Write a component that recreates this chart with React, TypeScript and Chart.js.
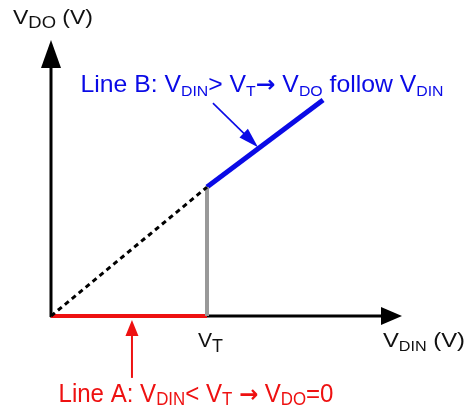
import { useEffect, useRef } from "react";
import { Chart, registerables } from "chart.js";

Chart.register(...registerables);

// Data (x in units of V_DIN, V_T = 1)
const X_MAX = 2.25;
const Y_MAX = 1.77;
const VT = 1;
const VT_LEVEL = 0.827;
const LINE_B_END = [1.744, 1.385];

const lineA = [
  { x: 0, y: 0 },
  { x: VT, y: 0 },
];
const vtMarker = [
  { x: VT, y: 0 },
  { x: VT, y: VT_LEVEL },
];
const dashed = [
  { x: 0, y: 0 },
  { x: VT, y: VT_LEVEL },
];
const lineB = [
  { x: VT, y: VT_LEVEL },
  { x: LINE_B_END[0], y: LINE_B_END[1] },
];

// Annotation anchor points (data units)
const pointerB = { from: [1.038, 1.365], to: [1.327, 1.083] };
const pointerA = { from: [0.519, -0.397], to: [0.519, -0.026] };

// Text runs: [text, kind] kind: 0 = normal, 1 = subscript, 2 = symbol
type Run = [string, number];
const yAxisLabel: Run[] = [["V", 0], ["DO", 1], [" (V)", 0]];
const xAxisLabel: Run[] = [["V", 0], ["DIN", 1], [" (V)", 0]];
const vtLabel: Run[] = [["V", 0], ["T", 1]];
const lineBLabel: Run[] = [
  ["Line B: V", 0],
  ["DIN", 1],
  ["> V", 0],
  ["T", 1],
  ["\u2192", 2],
  [" V", 0],
  ["DO", 1],
  [" follow V", 0],
  ["DIN", 1],
];
const lineALabel: Run[] = [
  ["Line A: V", 0],
  ["DIN", 1],
  ["< V", 0],
  ["T", 1],
  [" ", 0],
  ["\u2192", 2],
  [" V", 0],
  ["DO", 1],
  ["=0", 0],
];

const FONT = '"Liberation Sans", Arial, sans-serif';
const SYM_FONT = '"DejaVu Sans", sans-serif';

function drawRuns(
  ctx: CanvasRenderingContext2D,
  runs: Run[],
  x: number,
  y: number,
  size: number,
  subRatio: number,
  subShift: number,
  targetWidth: number,
  color: string
) {
  ctx.save();
  ctx.fillStyle = color;
  ctx.textBaseline = "alphabetic";
  ctx.textAlign = "left";
  const fontOf = (k: number) =>
    k === 1
      ? `${size * subRatio}px ${FONT}`
      : k === 2
      ? `bold ${size * 0.95}px ${SYM_FONT}`
      : `${size}px ${FONT}`;
  let total = 0;
  for (const [t, k] of runs) {
    ctx.font = fontOf(k);
    total += ctx.measureText(t).width;
  }
  const sx = targetWidth / total;
  ctx.translate(x, y);
  ctx.scale(sx, 1);
  let cx = 0;
  for (const [t, k] of runs) {
    ctx.font = fontOf(k);
    ctx.fillText(t, cx, k === 1 ? subShift : 0);
    cx += ctx.measureText(t).width;
  }
  ctx.restore();
}

function arrowHead(
  ctx: CanvasRenderingContext2D,
  fx: number,
  fy: number,
  tx: number,
  ty: number,
  len: number,
  half: number,
  color: string
) {
  const a = Math.atan2(ty - fy, tx - fx);
  const bx = tx - len * Math.cos(a);
  const by = ty - len * Math.sin(a);
  const px = -Math.sin(a) * half;
  const py = Math.cos(a) * half;
  ctx.save();
  ctx.fillStyle = color;
  ctx.beginPath();
  ctx.moveTo(tx, ty);
  ctx.lineTo(bx + px, by + py);
  ctx.lineTo(bx - px, by - py);
  ctx.closePath();
  ctx.fill();
  ctx.restore();
}

function arrow(
  ctx: CanvasRenderingContext2D,
  fx: number,
  fy: number,
  tx: number,
  ty: number,
  width: number,
  len: number,
  half: number,
  color: string
) {
  const a = Math.atan2(ty - fy, tx - fx);
  ctx.save();
  ctx.strokeStyle = color;
  ctx.lineWidth = width;
  ctx.beginPath();
  ctx.moveTo(fx, fy);
  ctx.lineTo(tx - (len - 2) * Math.cos(a), ty - (len - 2) * Math.sin(a));
  ctx.stroke();
  ctx.restore();
  arrowHead(ctx, fx, fy, tx, ty, len, half, color);
}

const axesPlugin = {
  id: "axesArrows",
  beforeDatasetsDraw(chart: any) {
    const { ctx, scales } = chart;
    const xs = scales.x;
    const ys = scales.y;
    const ox = xs.getPixelForValue(0);
    const oy = ys.getPixelForValue(0);
    const xe = xs.getPixelForValue(X_MAX);
    const ye = ys.getPixelForValue(Y_MAX);
    arrow(ctx, ox, oy + 1, ox, ye, 3, 28, 10, "#000");
    arrow(ctx, ox - 1, oy, xe, oy, 3, 21, 9, "#000");
  },
  afterDraw(chart: any) {
    const { ctx, scales } = chart;
    const xs = scales.x;
    const ys = scales.y;
    const px = (v: number) => xs.getPixelForValue(v);
    const py = (v: number) => ys.getPixelForValue(v);
    arrow(
      ctx,
      px(pointerB.from[0]),
      py(pointerB.from[1]),
      px(pointerB.to[0]),
      py(pointerB.to[1]),
      1.6,
      20,
      6,
      "#0a0ae6"
    );
    arrow(
      ctx,
      px(pointerA.from[0]),
      py(pointerA.from[1]),
      px(pointerA.to[0]),
      py(pointerA.to[1]),
      2,
      16,
      6.5,
      "#ee1111"
    );
    drawRuns(ctx, yAxisLabel, 13, 24, 20, 0.8, 4, 80, "#111");
    drawRuns(ctx, lineBLabel, 80.5, 92, 24, 0.64, 3.5, 363, "#0a0ae6");
    drawRuns(ctx, vtLabel, 198, 347, 21, 0.85, 4.5, 25, "#111");
    drawRuns(ctx, xAxisLabel, 383, 347, 21, 0.68, 3.5, 82, "#111");
    drawRuns(ctx, lineALabel, 58.5, 402, 25, 0.7, 3, 275, "#ee1111");
  },
};

export default function App() {
  const ref = useRef<HTMLCanvasElement | null>(null);
  useEffect(() => {
    document.body.style.margin = "0";
    const canvas = ref.current!;
    const chart = new Chart(canvas, {
      type: "scatter",
      data: {
        datasets: [
          {
            data: dashed,
            showLine: true,
            borderColor: "#000",
            borderWidth: 3,
            borderDash: [5, 4],
            pointRadius: 0,
            clip: false,
          },
          {
            data: vtMarker,
            showLine: true,
            borderColor: "#999",
            borderWidth: 4,
            pointRadius: 0,
            clip: false,
          },
          {
            data: lineA,
            showLine: true,
            borderColor: "#ee1111",
            borderWidth: 4,
            pointRadius: 0,
            clip: false,
          },
          {
            data: lineB,
            showLine: true,
            borderColor: "#0a0ae6",
            borderWidth: 5,
            pointRadius: 0,
            clip: false,
          },
        ] as any,
      },
      options: {
        animation: false,
        responsive: false,
        maintainAspectRatio: false,
        layout: { padding: { left: 51, right: 69, top: 40, bottom: 92 } },
        plugins: {
          legend: { display: false },
          tooltip: { enabled: false },
          title: { display: false },
        },
        scales: {
          x: { type: "linear", min: 0, max: X_MAX, display: false },
          y: { type: "linear", min: 0, max: Y_MAX, display: false },
        },
      },
      plugins: [axesPlugin],
    });
    return () => chart.destroy();
  }, []);
  return (
    <div style={{ width: 471, height: 408, background: "#fff" }}>
      <canvas ref={ref} width={471} height={408} style={{ display: "block" }} />
    </div>
  );
}
